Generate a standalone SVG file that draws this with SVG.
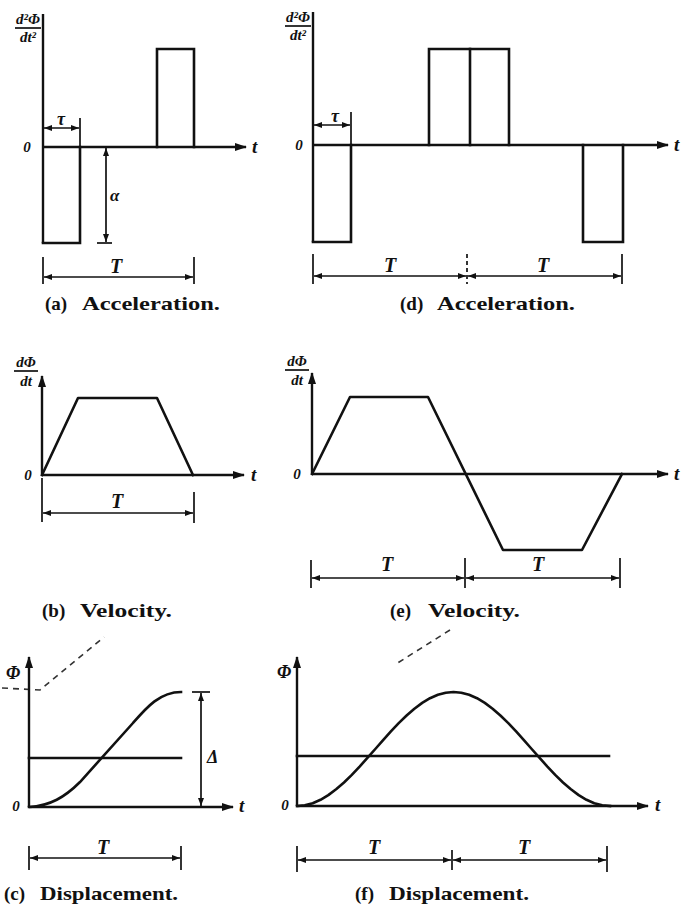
<svg xmlns="http://www.w3.org/2000/svg" width="683" height="915" viewBox="0 0 683 915">
<style>
.ln{stroke:#111;stroke-width:2.6;fill:none;stroke-linecap:square}
.ax{stroke:#111;stroke-width:2.4;fill:none}
.dm{stroke:#111;stroke-width:1.7;fill:none}
.lb{font-family:"Liberation Serif","DejaVu Serif",serif;font-style:italic;font-weight:bold;fill:#111}
.cap{font-family:"Liberation Serif","DejaVu Serif",serif;font-weight:bold;font-size:19px;fill:#111}
.noise{stroke:#333;stroke-width:1.6;fill:none;stroke-dasharray:6 5}
</style>
<defs>
<marker id="ah" viewBox="0 0 12 8" refX="11" refY="4" markerWidth="12" markerHeight="8" markerUnits="userSpaceOnUse" orient="auto"><path d="M0,0 L12,4 L0,8 z" fill="#111"/></marker>
<marker id="dh" viewBox="0 0 8 6" refX="8" refY="3" markerWidth="8" markerHeight="6" markerUnits="userSpaceOnUse" orient="auto-start-reverse"><path d="M0,0 L8,3 L0,6 z" fill="#111"/></marker>
</defs>

<!-- (a) Acceleration -->
<g id="panel-a">
<text class="lb" font-size="15" x="28" y="24" text-anchor="middle">d²Φ</text>
<line class="dm" x1="15" y1="28" x2="41" y2="28"/>
<text class="lb" font-size="15" x="28" y="42" text-anchor="middle">dt²</text>
<line class="ax" x1="43" y1="243" x2="43" y2="14"/>
<line class="ax" x1="43" y1="147" x2="246" y2="147" marker-end="url(#ah)"/>
<text class="lb" font-size="15" x="27" y="152" text-anchor="middle">0</text>
<text class="lb" font-size="19" x="252" y="153">t</text>
<polyline class="ln" points="157,147 157,49 194,49 194,147"/>
<polyline class="ln" points="43,243 80,243 80,147"/>
<line class="dm" x1="80" y1="118" x2="80" y2="147"/>
<line class="dm" x1="44" y1="128" x2="79" y2="128" marker-start="url(#dh)" marker-end="url(#dh)"/>
<text class="lb" font-size="18" x="61" y="125" text-anchor="middle">τ</text>
<line class="dm" x1="106" y1="148" x2="106" y2="242" marker-start="url(#dh)" marker-end="url(#dh)"/>
<line class="dm" x1="97" y1="243" x2="112" y2="243"/>
<text class="lb" font-size="17" x="110" y="201">α</text>
<line class="dm" x1="43" y1="257" x2="43" y2="284"/>
<line class="dm" x1="194" y1="257" x2="194" y2="284"/>
<line class="dm" x1="44" y1="277" x2="193" y2="277" marker-start="url(#dh)" marker-end="url(#dh)"/>
<text class="lb" font-size="20" x="116" y="273" text-anchor="middle">T</text>
<text class="cap" x="45" y="310">(a)<tspan x="82" textLength="138" lengthAdjust="spacingAndGlyphs">Acceleration.</tspan></text>
</g>

<!-- (d) Acceleration -->
<g id="panel-d">
<text class="lb" font-size="15" x="298" y="22" text-anchor="middle">d²Φ</text>
<line class="dm" x1="285" y1="26" x2="311" y2="26"/>
<text class="lb" font-size="15" x="298" y="40" text-anchor="middle">dt²</text>
<line class="ax" x1="313" y1="242" x2="313" y2="12"/>
<line class="ax" x1="313" y1="145" x2="668" y2="145" marker-end="url(#ah)"/>
<text class="lb" font-size="15" x="299" y="150" text-anchor="middle">0</text>
<text class="lb" font-size="19" x="674" y="151">t</text>
<polyline class="ln" points="429,145 429,49 509,49 509,145"/>
<line class="ln" x1="470" y1="49" x2="470" y2="145"/>
<polyline class="ln" points="313,242 351,242 351,145"/>
<polyline class="ln" points="583,145 583,242 623,242 623,145"/>
<line class="dm" x1="351" y1="112" x2="351" y2="145"/>
<line class="dm" x1="314" y1="125" x2="350" y2="125" marker-start="url(#dh)" marker-end="url(#dh)"/>
<text class="lb" font-size="18" x="335" y="122" text-anchor="middle">τ</text>
<line class="dm" x1="313" y1="254" x2="313" y2="284"/>
<line class="dm" x1="467" y1="254" x2="467" y2="284" stroke-dasharray="4 3"/>
<line class="dm" x1="622" y1="254" x2="622" y2="284"/>
<line class="dm" x1="314" y1="276" x2="466" y2="276" marker-start="url(#dh)" marker-end="url(#dh)"/>
<line class="dm" x1="468" y1="276" x2="621" y2="276" marker-start="url(#dh)" marker-end="url(#dh)"/>
<text class="lb" font-size="20" x="390" y="272" text-anchor="middle">T</text>
<text class="lb" font-size="20" x="543" y="272" text-anchor="middle">T</text>
<text class="cap" x="400" y="310">(d)<tspan x="437" textLength="138" lengthAdjust="spacingAndGlyphs">Acceleration.</tspan></text>
</g>

<!-- (b) Velocity -->
<g id="panel-b">
<text class="lb" font-size="15" x="26" y="367" text-anchor="middle">dΦ</text>
<line class="dm" x1="14" y1="371" x2="38" y2="371"/>
<text class="lb" font-size="15" x="26" y="386" text-anchor="middle">dt</text>
<line class="ax" x1="42" y1="475" x2="42" y2="376" marker-end="url(#ah)"/>
<line class="ax" x1="42" y1="475" x2="244" y2="475" marker-end="url(#ah)"/>
<text class="lb" font-size="15" x="28" y="480" text-anchor="middle">0</text>
<text class="lb" font-size="19" x="251" y="481">t</text>
<polyline class="ln" stroke-linejoin="round" points="42,475 78,398 157,398 193,475"/>
<line class="dm" x1="42" y1="478" x2="42" y2="522"/>
<line class="dm" x1="194" y1="492" x2="194" y2="523"/>
<line class="dm" x1="43" y1="513" x2="193" y2="513" marker-start="url(#dh)" marker-end="url(#dh)"/>
<text class="lb" font-size="20" x="117" y="508" text-anchor="middle">T</text>
<text class="cap" x="42" y="617">(b)<tspan x="80" textLength="92" lengthAdjust="spacingAndGlyphs">Velocity.</tspan></text>
</g>

<!-- (e) Velocity -->
<g id="panel-e">
<text class="lb" font-size="15" x="297" y="366" text-anchor="middle">dΦ</text>
<line class="dm" x1="285" y1="370" x2="309" y2="370"/>
<text class="lb" font-size="15" x="297" y="385" text-anchor="middle">dt</text>
<line class="ax" x1="312" y1="474" x2="312" y2="373" marker-end="url(#ah)"/>
<line class="ax" x1="312" y1="474" x2="668" y2="474" marker-end="url(#ah)"/>
<text class="lb" font-size="15" x="297" y="479" text-anchor="middle">0</text>
<text class="lb" font-size="19" x="674" y="480">t</text>
<polyline class="ln" stroke-linejoin="round" points="312,474 350,397 428,397 503,550 582,550 622,474"/>
<line class="dm" x1="311" y1="560" x2="311" y2="588"/>
<line class="dm" x1="465" y1="558" x2="465" y2="588"/>
<line class="dm" x1="620" y1="558" x2="620" y2="588"/>
<line class="dm" x1="312" y1="578" x2="464" y2="578" marker-start="url(#dh)" marker-end="url(#dh)"/>
<line class="dm" x1="466" y1="578" x2="619" y2="578" marker-start="url(#dh)" marker-end="url(#dh)"/>
<text class="lb" font-size="20" x="387" y="571" text-anchor="middle">T</text>
<text class="lb" font-size="20" x="538" y="571" text-anchor="middle">T</text>
<text class="cap" x="390" y="617">(e)<tspan x="428" textLength="92" lengthAdjust="spacingAndGlyphs">Velocity.</tspan></text>
</g>

<!-- (c) Displacement -->
<g id="panel-c">
<path class="noise" d="M2,688 L40,690 L104,637"/>
<text class="lb" font-size="18" x="13" y="679" text-anchor="middle">Φ</text>
<line class="ax" x1="29" y1="807" x2="29" y2="657" marker-end="url(#ah)"/>
<line class="ax" x1="29" y1="807" x2="233" y2="807" marker-end="url(#ah)"/>
<text class="lb" font-size="15" x="16" y="811" text-anchor="middle">0</text>
<text class="lb" font-size="19" x="239" y="812">t</text>
<path class="ln" d="M29,807 C50,806 65,797 80,782 L133,723 C147,707 160,692 181,692"/>
<line class="ln" x1="29" y1="758" x2="181" y2="758"/>
<line class="dm" x1="201" y1="693" x2="201" y2="806" marker-start="url(#dh)" marker-end="url(#dh)"/>
<line class="dm" x1="192" y1="692" x2="210" y2="692"/>
<text class="lb" font-size="18" x="207" y="763">Δ</text>
<line class="dm" x1="29" y1="846" x2="29" y2="870"/>
<line class="dm" x1="181" y1="846" x2="181" y2="870"/>
<line class="dm" x1="30" y1="858" x2="180" y2="858" marker-start="url(#dh)" marker-end="url(#dh)"/>
<text class="lb" font-size="20" x="103" y="854" text-anchor="middle">T</text>
<text class="cap" x="4" y="900">(c)<tspan x="40" textLength="138" lengthAdjust="spacingAndGlyphs">Displacement.</tspan></text>
</g>

<!-- (f) Displacement -->
<g id="panel-f">
<path class="noise" d="M450,630 L396,664" stroke-width="1.2"/>
<text class="lb" font-size="18" x="284" y="678" text-anchor="middle">Φ</text>
<line class="ax" x1="297" y1="806" x2="297" y2="657" marker-end="url(#ah)"/>
<line class="ax" x1="297" y1="806" x2="648" y2="806" marker-end="url(#ah)"/>
<text class="lb" font-size="15" x="285" y="810" text-anchor="middle">0</text>
<text class="lb" font-size="19" x="655" y="811">t</text>
<polyline class="ln" stroke-linejoin="round" points="297,806 304.8,805.3 312.7,803.2 320.5,799.8 328.3,795.1 336.1,789.3 344,782.5 351.8,774.9 359.6,766.6 367.4,757.9 375.3,749 383.1,740.1 390.9,731.4 398.7,723.1 406.6,715.5 414.4,708.7 422.2,702.9 430,698.2 437.9,694.8 445.7,692.7 453.5,692 461.3,692.7 469.1,694.8 477,698.2 484.8,702.9 492.6,708.7 500.4,715.5 508.3,723.1 516.1,731.4 523.9,740.1 531.7,749 539.6,757.9 547.4,766.6 555.2,774.9 563,782.5 570.9,789.3 578.7,795.1 586.5,799.8 594.3,803.2 602.2,805.3 610,806"/>
<line class="ln" x1="297" y1="756" x2="609" y2="756"/>
<line class="dm" x1="297" y1="846" x2="297" y2="872"/>
<line class="dm" x1="452" y1="850" x2="452" y2="870"/>
<line class="dm" x1="607" y1="846" x2="607" y2="872"/>
<line class="dm" x1="298" y1="860" x2="451" y2="860" marker-start="url(#dh)" marker-end="url(#dh)"/>
<line class="dm" x1="453" y1="860" x2="606" y2="860" marker-start="url(#dh)" marker-end="url(#dh)"/>
<text class="lb" font-size="20" x="374" y="854" text-anchor="middle">T</text>
<text class="lb" font-size="20" x="524" y="854" text-anchor="middle">T</text>
<text class="cap" x="355" y="900">(f)<tspan x="389" textLength="140" lengthAdjust="spacingAndGlyphs">Displacement.</tspan></text>
</g>
</svg>
